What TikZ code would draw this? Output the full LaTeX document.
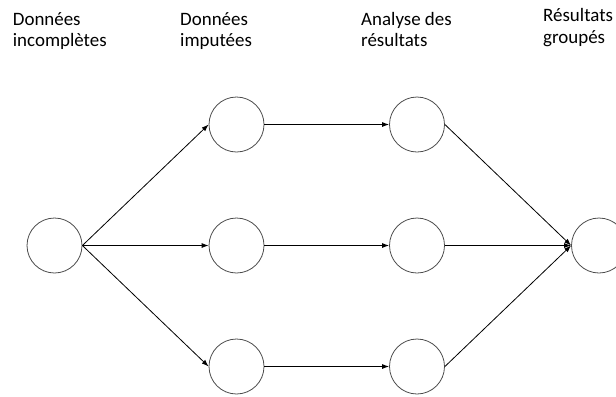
\documentclass[tikz,border=0pt]{standalone}
\usepackage{fontspec}
\setmainfont{Carlito}
\usetikzlibrary{arrows.meta}

\begin{document}
\begin{tikzpicture}[x=1bp, y=-1bp,
    etat/.style={circle, draw=black!70, line width=0.8bp, minimum size=55bp, inner sep=0pt},
    fleche/.style={-{Latex[length=7bp, width=5bp]}, line width=0.8bp},
    titre/.style={anchor=base west, align=left, inner sep=0pt, font=\fontsize{19}{21.7}\selectfont}]
			\useasboundingbox (0,0) rectangle (616,396);
			\clip (0,0) rectangle (616,396);
			% titres
			\node[titre] (t0) at (12.7,46.7) {Données\\incomplètes};
			\node[titre] (t1) at (180,46.7) {Données\\imputées};
			\node[titre] (t2) at (361,46.7) {Analyse des\\résultats};
			\node[titre] (t3) at (543,43) {Résultats\\groupés};
			% cercles
			\node[etat] (d0) at (54.5,245.5) {};
			\node[etat] (r) at (599,245.5) {};
			\foreach \i/\y in {1/124.5, 2/245.5, 3/366.5} {
				\node[etat] (m\i) at (236.5,\y) {};
				\node[etat] (a\i) at (417,\y) {};
				\draw[fleche] (d0.east) -- (m\i.west);
				\draw[fleche] (m\i.east) -- (a\i.west);
				\draw[fleche] (a\i.east) -- (r.west);
			}
		\end{tikzpicture}
\end{document}
